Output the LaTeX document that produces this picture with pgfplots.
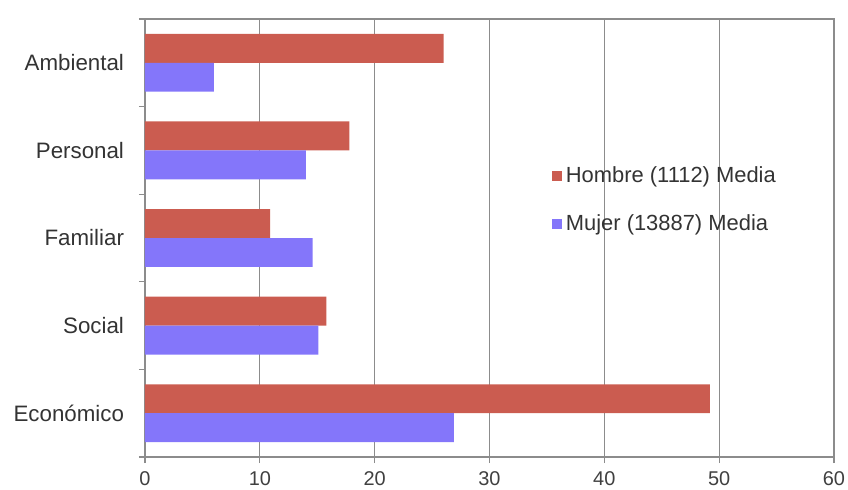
\documentclass[border=0pt]{standalone}
\usepackage{fontspec}
\setmainfont{Liberation Sans}
\usepackage{pgfplots}
\pgfplotsset{compat=1.18}
\definecolor{hombre}{RGB}{203,92,80}
\definecolor{mujer}{RGB}{132,118,250}
\definecolor{axgray}{RGB}{140,140,140}

\begin{document}
\begin{tikzpicture}
\useasboundingbox (-72.5bp,-16.5bp) rectangle (351.5bp,228.5bp);
\begin{axis}[
  at={(0,0)}, anchor=south west,
  scale only axis,
  width=344.5bp, height=219bp,
  xbar=0pt,
  bar width=0.33,
  y dir=reverse,
  xmin=0, xmax=60,
  ymin=-0.5, ymax=4.5,
  xtick={0,10,...,60},
  ytick={0,1,2,3,4},
  yticklabels={Ambiental,Personal,Familiar,Social,Económico},
  minor ytick={-0.5,0.5,1.5,2.5,3.5,4.5},
  xmajorgrids,
  grid style={axgray, line width=0.5pt},
  axis line style={axgray, line width=0.6pt},
  tick style={axgray, line width=0.6pt},
  tick align=outside,
  xtick pos=bottom,
  ytick pos=left,
  major tick length=3bp,
  minor tick length=3bp,
  major y tick style={draw=none},
  x tick label style={font=\fontsize{10}{12}\selectfont, color=black!75, yshift=-1bp},
  y tick label style={font=\fontsize{11.2}{13}\selectfont, color=black!80, xshift=-4bp},
  /pgf/number format/assume math mode=true,
  legend style={draw=none, fill=none, at={(0.59,0.672)}, anchor=north west,
    font=\fontsize{11}{13}\selectfont, text=black!80,
    row sep=10.5bp, inner sep=0pt},
  legend cell align=left,
  legend image code/.code={\fill[#1] (0bp,-2.5bp) rectangle (5bp,2.5bp);},
]
\addplot[fill=hombre, draw=none] coordinates {
  (26.0,0) (17.8,1) (10.9,2) (15.8,3) (49.2,4)
};
\addplot[fill=mujer, draw=none] coordinates {
  (6.0,0) (14.0,1) (14.6,2) (15.1,3) (26.9,4)
};
\legend{Hombre (1112) Media, Mujer (13887) Media}
\end{axis}
\end{tikzpicture}
\end{document}
